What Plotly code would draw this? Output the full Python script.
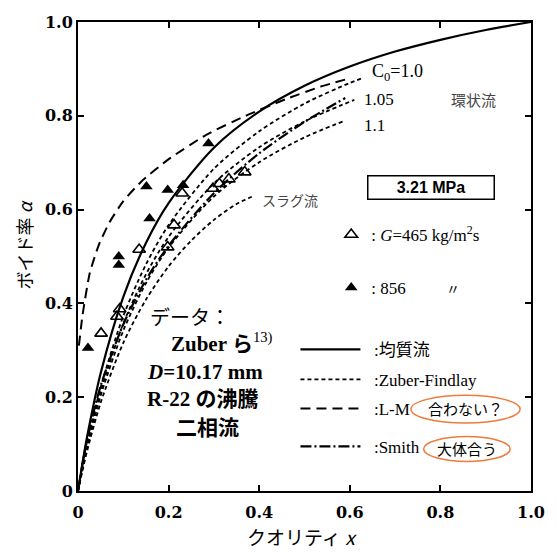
import plotly.graph_objects as go

# ---------------- data ----------------
hom_x = [0, 0.01, 0.02, 0.05, 0.1, 0.15, 0.2, 0.3, 0.4, 0.5, 0.6, 0.7, 0.8, 0.9, 1.0]
hom_y = [0, 0.060, 0.115, 0.251, 0.414, 0.529, 0.614, 0.732, 0.809, 0.864, 0.905, 0.937, 0.962, 0.983, 1.0]

zf10_x = [0, 0.01, 0.02, 0.05, 0.1, 0.15, 0.2, 0.3, 0.4, 0.5, 0.6, 0.63]
zf10_y = [0, 0.052, 0.100, 0.221, 0.373, 0.483, 0.567, 0.687, 0.767, 0.826, 0.870, 0.881]
zf105_x = [0, 0.01, 0.02, 0.05, 0.1, 0.15, 0.2, 0.3, 0.4, 0.5, 0.61]
zf105_y = [0, 0.050, 0.095, 0.212, 0.357, 0.462, 0.542, 0.656, 0.733, 0.788, 0.834]
zf11_x = [0, 0.01, 0.02, 0.05, 0.1, 0.15, 0.2, 0.3, 0.4, 0.5, 0.59]
zf11_y = [0, 0.048, 0.092, 0.203, 0.342, 0.443, 0.519, 0.628, 0.701, 0.754, 0.790]
slug_x = [0, 0.01, 0.02, 0.05, 0.1, 0.15, 0.2, 0.25, 0.3, 0.35, 0.39]
slug_y = [0, 0.044, 0.085, 0.188, 0.316, 0.408, 0.479, 0.534, 0.578, 0.612, 0.630]

lm_x = [0.002, 0.01, 0.026, 0.046, 0.069, 0.1, 0.14, 0.198, 0.284, 0.37, 0.46, 0.535, 0.6]
lm_y = [0.31, 0.375, 0.465, 0.525, 0.572, 0.618, 0.660, 0.706, 0.760, 0.800, 0.836, 0.862, 0.880]

smith_x = [0, 0.01, 0.02, 0.05, 0.1, 0.15, 0.2, 0.3, 0.4, 0.5, 0.59]
smith_y = [0, 0.058, 0.108, 0.224, 0.355, 0.450, 0.523, 0.635, 0.720, 0.787, 0.838]

g465_x = [0.051, 0.086, 0.092, 0.135, 0.198, 0.212, 0.230, 0.298, 0.312, 0.333, 0.368]
g465_y = [0.336, 0.372, 0.388, 0.515, 0.520, 0.567, 0.635, 0.645, 0.655, 0.665, 0.680]
g856_x = [0.022, 0.090, 0.090, 0.151, 0.158, 0.198, 0.232, 0.288]
g856_y = [0.305, 0.482, 0.500, 0.649, 0.581, 0.642, 0.652, 0.741]

tick_vals = [0, 0.2, 0.4, 0.6, 0.8, 1.0]
tick_text = ["0", "0.2", "0.4", "0.6", "0.8", "1.0"]

SERIF = "Liberation Serif, DejaVu Serif, Noto Sans CJK JP, serif"
CJK = "Noto Sans CJK JP, sans-serif"
NB = "\u00a0\u00a0"

fig = go.Figure()

def curve(x, y, dash, width, name=None, legend=None, smooth=0.8):
    fig.add_trace(go.Scatter(
        x=x, y=y, mode="lines",
        line=dict(color="black", width=width, dash=dash, shape="spline", smoothing=smooth),
        name=name or "", showlegend=legend is not None, legend=legend or "legend",
        hoverinfo="skip"))

curve(hom_x, hom_y, "solid", 2.2, NB + ":均質流", "legend")
curve(zf10_x, zf10_y, "4px,3px", 1.8, NB + ":Zuber-Findlay", "legend2")
curve(zf105_x, zf105_y, "4px,3px", 1.8)
curve(zf11_x, zf11_y, "4px,3px", 1.8)
curve(slug_x, slug_y, "4px,3px", 1.8)
curve(lm_x, lm_y, "10px,6px", 2.0, NB + ":L-M", "legend3", smooth=0.5)
curve(smith_x, smith_y, "11px,3px,2px,3px", 2.2, NB + ":Smith", "legend4")

fig.add_trace(go.Scatter(
    x=g465_x, y=g465_y, mode="markers",
    marker=dict(symbol="triangle-up-open", size=11, color="black", line=dict(width=1.6, color="black")),
    name=": <i>G</i>=465 kg/m<sup>2</sup>s", legend="legend5", hoverinfo="skip"))
fig.add_trace(go.Scatter(
    x=g856_x, y=g856_y, mode="markers",
    marker=dict(symbol="triangle-up", size=11, color="black"),
    name=": 856", legend="legend6", hoverinfo="skip"))

def leg(x, y, iw=30):
    return dict(x=x, y=y, xanchor="left", yanchor="middle", bgcolor="rgba(0,0,0,0)",
                borderwidth=0, itemwidth=iw, font=dict(family=SERIF, size=17, color="black"),
                itemclick=False)

fig.update_layout(
    legend=leg(0.480, 0.301, 60),
    legend2=leg(0.480, 0.237, 60),
    legend3=leg(0.480, 0.175, 60),
    legend4=leg(0.480, 0.094, 60),
    legend5=leg(0.559, 0.546),
    legend6=leg(0.559, 0.433),
)

annots = [
    dict(x=0.645, y=0.893, text="C<sub>0</sub>=1.0", xanchor="left", size=18, font=SERIF),
    dict(x=0.628, y=0.834, text="1.05", xanchor="left", size=17, font=SERIF),
    dict(x=0.628, y=0.780, text="1.1", xanchor="left", size=17, font=SERIF),
    dict(x=0.873, y=0.834, text="環状流", xanchor="center", size=15, font=CJK, color="#444"),
    dict(x=0.402, y=0.620, text="スラグ流", xanchor="left", size=14, font=CJK, color="#444"),
    dict(x=0.828, y=0.433, text="〃", xanchor="center", size=14, font=CJK),
    dict(x=0.155, y=0.369, text="データ：", xanchor="left", size=20, font=SERIF),
    dict(x=0.200, y=0.316, text="<b>Zuber ら</b><sup>13)</sup>", xanchor="left", size=21, font=SERIF),
    dict(x=0.148, y=0.254, text="<b><i>D</i>=10.17 mm</b>", xanchor="left", size=21, font=SERIF),
    dict(x=0.148, y=0.196, text="<b>R-22 の沸騰</b>", xanchor="left", size=21, font=SERIF),
    dict(x=0.213, y=0.134, text="<b>二相流</b>", xanchor="left", size=21, font=SERIF),
    dict(x=0.855, y=0.175, text="合わない？", xanchor="center", size=15, font=CJK),
    dict(x=0.858, y=0.090, text="大体合う", xanchor="center", size=15, font=CJK),
]
for a in annots:
    fig.add_annotation(x=a["x"], y=a["y"], xref="x", yref="y", text=a["text"],
                       showarrow=False, xanchor=a["xanchor"], yanchor="middle",
                       font=dict(family=a["font"], size=a["size"], color=a.get("color", "black")))

# pressure box
fig.add_annotation(x=0.780, y=0.648, xref="x", yref="y", text="<b>3.21 MPa</b>", showarrow=False,
                   font=dict(family="Liberation Sans, Arial, sans-serif", size=16, color="black"),
                   bordercolor="black", borderwidth=1.5, borderpad=2, bgcolor="white",
                   width=121, height=18)

# orange ellipses
for (x0, x1, y0, y1) in [(0.735, 0.976, 0.145, 0.204), (0.763, 0.954, 0.063, 0.116)]:
    fig.add_shape(type="circle", xref="x", yref="y", x0=x0, x1=x1, y0=y0, y1=y1,
                  line=dict(color="#F07A3A", width=1.5))

# axis titles
fig.add_annotation(x=-0.12, y=0.525, xref="paper", yref="paper", text="ボイド率 <i>α</i>",
                   textangle=-90, showarrow=False, xanchor="center", yanchor="middle",
                   font=dict(family=CJK, size=18, color="black"))
fig.add_annotation(x=0.495, y=-0.098, xref="paper", yref="paper", text="クオリティ <i>x</i>",
                   showarrow=False, xanchor="center", yanchor="middle",
                   font=dict(family=CJK, size=19, color="black"))

axis_common = dict(range=[0, 1], showgrid=False, zeroline=False, showline=True, linecolor="black",
                   linewidth=2, mirror="ticks", ticks="inside", ticklen=6, tickwidth=1.5,
                   tickcolor="black", tickvals=tick_vals, ticktext=tick_text,
                   tickfont=dict(family="DejaVu Serif, serif", size=16, color="black", weight="bold"))
fig.update_xaxes(ticklabelstandoff=6, **axis_common)
fig.update_yaxes(**axis_common)

fig.update_layout(width=557, height=553, margin=dict(l=78, r=14, t=22, b=62),
                  paper_bgcolor="white", plot_bgcolor="white")

fig.write_html("out.html")
